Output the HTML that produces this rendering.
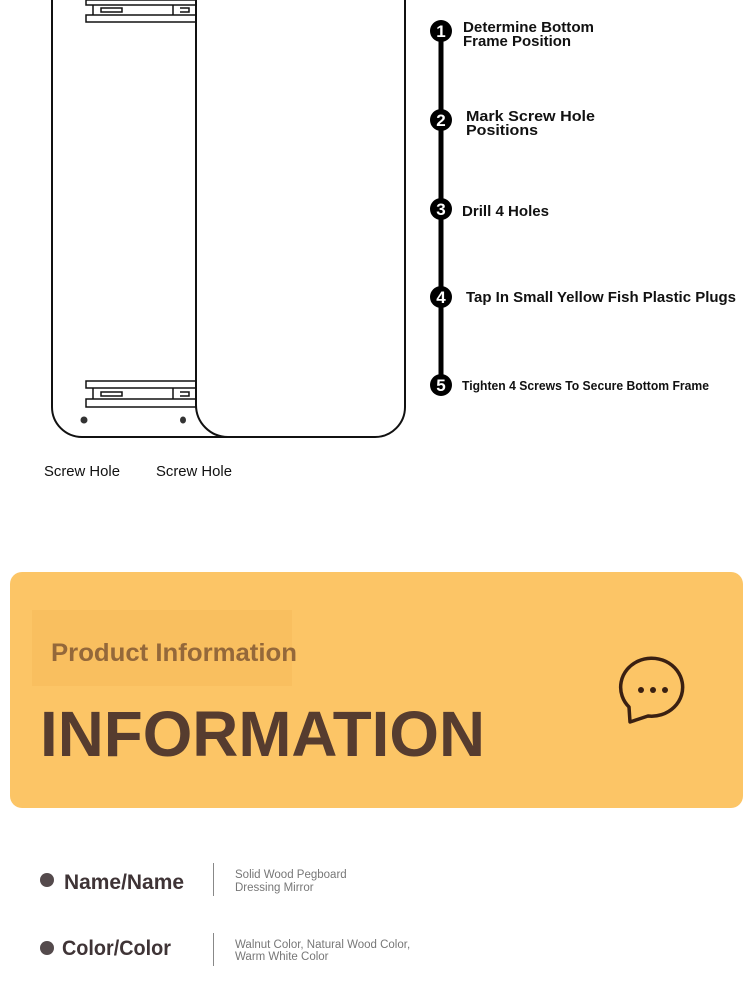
<!DOCTYPE html>
<html><head><meta charset="utf-8"><style>
html,body{margin:0;padding:0;background:#fff;width:750px;height:1000px;overflow:hidden;font-family:"Liberation Sans",sans-serif}
.a{position:absolute}
</style></head><body>
<svg class="a" style="left:0;top:0" width="750" height="1000">
<g fill="none" stroke="#111" stroke-width="2">
<path d="M52,-5 V407 A30,30 0 0 0 82,437 H375 A30,30 0 0 0 405,407 V-5"/>
<path d="M196,-5 V405 A32,32 0 0 0 228,437"/>
<g stroke-width="1.5">
<rect x="86" y="381" width="110" height="7"/>
<rect x="86" y="399" width="110" height="8"/>
<path d="M93,388 V399 M173,388 V399"/>
<path d="M101,392 H122 V396 H101 Z M180,392 H189 V396 H180"/>
<rect x="86" y="0" width="110" height="5"/>
<rect x="86" y="15" width="110" height="7"/>
<path d="M93,5 V15 M173,5 V15"/>
<path d="M101,8 H122 V12 H101 Z M180,8 H189 V12 H180"/>
</g>
</g>
<circle cx="84" cy="420" r="3.5" fill="#333"/>
<ellipse cx="183" cy="420" rx="3" ry="3.5" fill="#333"/>
<rect x="438.5" y="30" width="5" height="356" fill="#000"/>
<g fill="#000">
<circle cx="441" cy="31" r="11"/><circle cx="441" cy="120" r="11"/><circle cx="441" cy="209" r="11"/><circle cx="441" cy="297" r="11"/><circle cx="441" cy="385" r="11"/>
</g>
<g fill="#fff" font-family="Liberation Sans" font-weight="bold" font-size="17" text-anchor="middle">
<text x="441" y="37">1</text><text x="441" y="126">2</text><text x="441" y="215">3</text><text x="441" y="303">4</text><text x="441" y="391">5</text>
</g>
<g fill="#111" font-family="Liberation Sans" font-size="15" font-weight="bold">
<text x="463" y="32" textLength="131" lengthAdjust="spacingAndGlyphs">Determine Bottom</text><text x="463" y="46" textLength="108" lengthAdjust="spacingAndGlyphs">Frame Position</text>
<text x="466" y="121" textLength="129" lengthAdjust="spacingAndGlyphs">Mark Screw Hole</text><text x="466" y="135" textLength="72" lengthAdjust="spacingAndGlyphs">Positions</text>
<text x="462" y="216" textLength="87" lengthAdjust="spacingAndGlyphs">Drill 4 Holes</text>
<text x="466" y="302" textLength="270" lengthAdjust="spacingAndGlyphs">Tap In Small Yellow Fish Plastic Plugs</text>
<text x="462" y="390" font-size="12.5" textLength="247" lengthAdjust="spacingAndGlyphs">Tighten 4 Screws To Secure Bottom Frame</text>
</g>
<g fill="#111" font-family="Liberation Sans" font-size="14.5">
<text x="44" y="476" textLength="76" lengthAdjust="spacingAndGlyphs">Screw Hole</text>
<text x="156" y="476" textLength="76" lengthAdjust="spacingAndGlyphs">Screw Hole</text>
</g>
<rect x="10" y="572" width="733" height="236" rx="12" fill="#fcc566"/>
<rect x="32" y="610" width="260" height="76" fill="#f9bf5f"/>
<text x="51" y="661" font-family="Liberation Sans" font-weight="bold" font-size="25" fill="#94683a" textLength="246" lengthAdjust="spacingAndGlyphs">Product Information</text>
<text x="40" y="756" font-family="Liberation Sans" font-weight="bold" font-size="64" fill="#563c2f" textLength="445" lengthAdjust="spacingAndGlyphs">INFORMATION</text>
<path d="M629,707 A31,29 0 1 1 648,716 L630,722 Z" fill="none" stroke="#3a2012" stroke-width="3.5" stroke-linejoin="round"/>
<circle cx="641" cy="690" r="3" fill="#3a2012"/><circle cx="653" cy="690" r="3" fill="#3a2012"/><circle cx="665" cy="690" r="3" fill="#3a2012"/>
<circle cx="47" cy="880" r="7" fill="#544a4c"/>
<circle cx="47" cy="948" r="7" fill="#544a4c"/>
<text x="64" y="889" font-family="Liberation Sans" font-weight="bold" font-size="21" fill="#3f3436" textLength="120" lengthAdjust="spacingAndGlyphs">Name/Name</text>
<text x="62" y="955" font-family="Liberation Sans" font-weight="bold" font-size="21" fill="#3f3436" textLength="109" lengthAdjust="spacingAndGlyphs">Color/Color</text>
<rect x="213" y="863" width="1" height="33" fill="#888"/>
<rect x="213" y="933" width="1" height="33" fill="#888"/>
<g font-family="Liberation Sans" font-size="11.5" fill="#777">
<text x="235" y="878">Solid Wood Pegboard</text><text x="235" y="891">Dressing Mirror</text>
<text x="235" y="948">Walnut Color, Natural Wood Color,</text><text x="235" y="960">Warm White Color</text>
</g>
</svg>
</body></html>
